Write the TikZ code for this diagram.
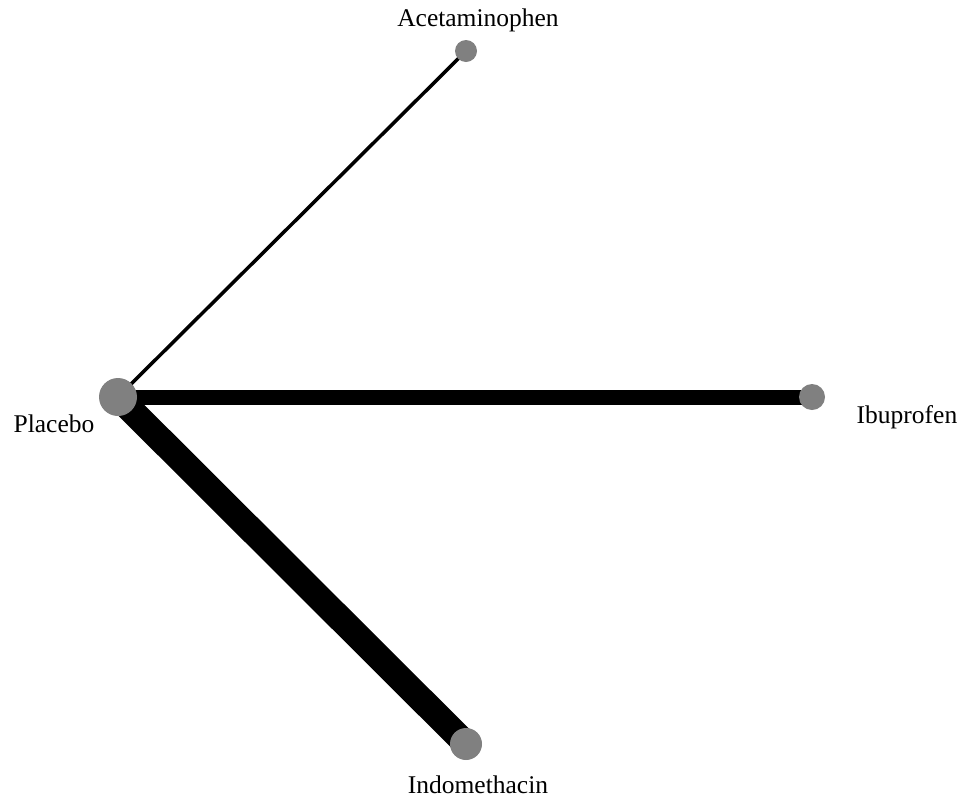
\documentclass[tikz,border=0pt]{standalone}
\usepackage{fontspec}
\setmainfont{Liberation Serif}
\usepackage{xcolor}
\usepackage{tikz}
\usetikzlibrary{positioning, backgrounds}
\definecolor{drugcolor}{RGB}{128,128,128}
\definecolor{edgecolor}{RGB}{0,0,0}

\begin{document}
\begin{tikzpicture}[
    x=1pt, y=-1pt,
    drug/.style={circle, fill=drugcolor, inner sep=0pt},
    druglabel/.style={font=\fontsize{25.5}{30}\selectfont, inner sep=0pt},
    trial/.style={draw=edgecolor, line cap=butt}
]
    \useasboundingbox (0,0) rectangle (967,804);

    % Nodes
    \node[drug, minimum size=38pt] (placebo) at (118,397) {};
    \node[drug, minimum size=22pt] (acet) at (466,51) {};
    \node[drug, minimum size=26pt] (ibu) at (812,397) {};
    \node[drug, minimum size=32pt] (indo) at (466,744) {};

    % Labels
    \node[druglabel] (placebolabel) at (54,424) {Placebo};
    \node[druglabel] (acetlabel) at (478,20) {Acetaminophen};
    \node[druglabel] (ibulabel) at (907,417) {Ibuprofen};
    \node[druglabel] (indolabel) at (478,785) {Indomethacin};

    % Comparisons
    \begin{scope}[on background layer]
        \draw[trial, line width=3.5pt] (placebo.center) -- (acet.center);
        \draw[trial, line width=15pt] (placebo.center) -- (ibu.center);
        \draw[trial, line width=26pt] (placebo.center) -- (indo.center);
    \end{scope}
\end{tikzpicture}
\end{document}
